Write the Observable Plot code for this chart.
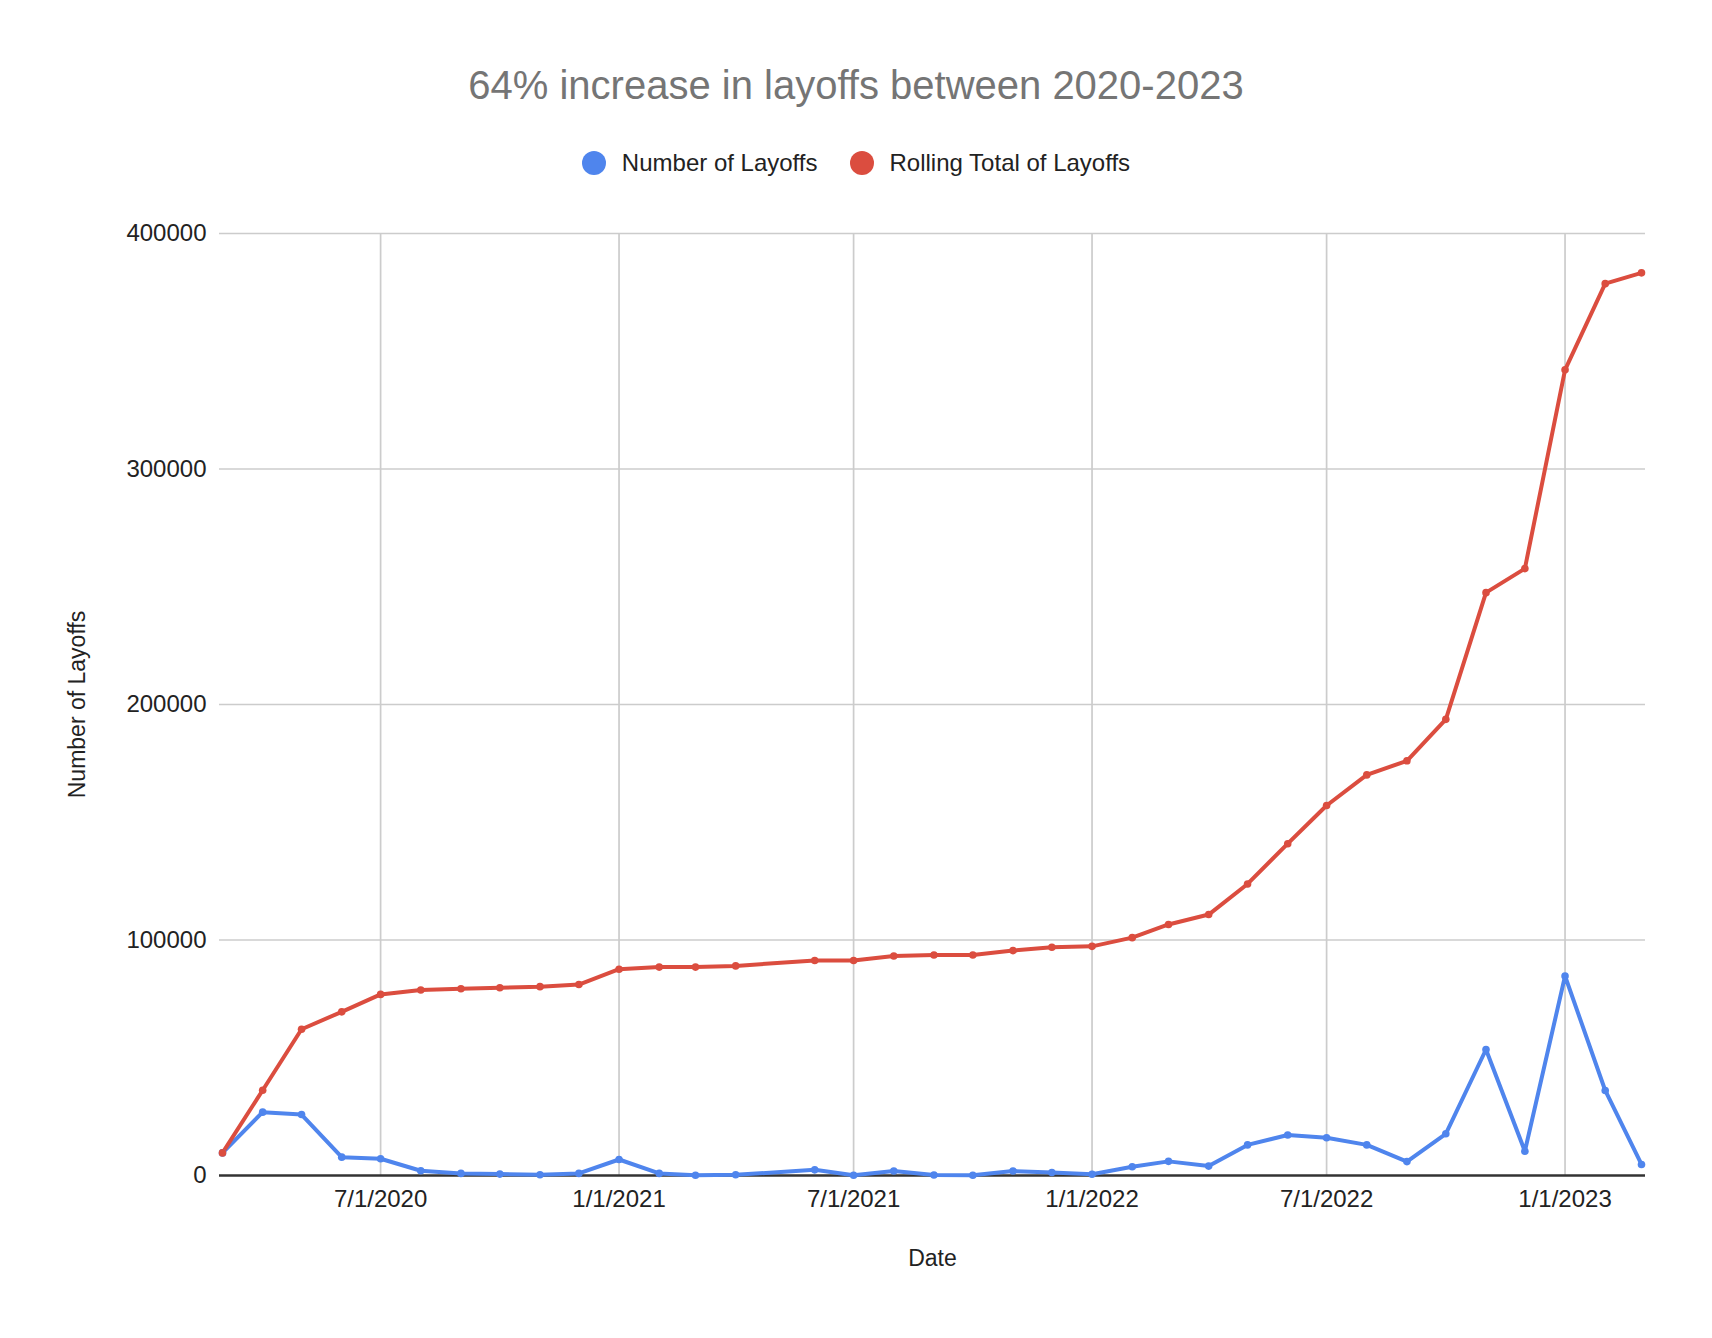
<!DOCTYPE html>
<html>
<head>
<meta charset="utf-8">
<script src="https://cdn.jsdelivr.net/npm/d3@7"></script>
<script src="https://cdn.jsdelivr.net/npm/@observablehq/plot@0.6"></script>
<style>
  body { margin: 0; background: #fff; font-family: "Liberation Sans", Arial, sans-serif; }
  #wrap { position: relative; width: 1712px; height: 1338px; background: #fff; }
  #title { position: absolute; top: 63px; left: 0; width: 1712px; text-align: center; font-size: 40px; line-height: 44px; color: #757575; }
  #legend { position: absolute; top: 149px; left: 0; width: 1712px; display: flex; justify-content: center; align-items: center; font-size: 24px; line-height: 28px; color: #222; }
  .item { display: flex; align-items: center; margin: 0 16px; }
  .sw { width: 24px; height: 24px; border-radius: 50%; display: inline-block; margin-right: 16px; }
  #chart { position: absolute; top: 200px; left: 0; }
</style>
</head>
<body>
<div id="wrap">
  <div id="title">64% increase in layoffs between 2020-2023</div>
  <div id="legend"></div>
  <div id="chart"></div>
</div>
<script>
const months = [
  "2020-03-01","2020-04-01","2020-05-01","2020-06-01","2020-07-01","2020-08-01","2020-09-01","2020-10-01","2020-11-01","2020-12-01",
  "2021-01-01","2021-02-01","2021-03-01","2021-04-01","2021-06-01","2021-07-01","2021-08-01","2021-09-01","2021-10-01","2021-11-01","2021-12-01",
  "2022-01-01","2022-02-01","2022-03-01","2022-04-01","2022-05-01","2022-06-01","2022-07-01","2022-08-01","2022-09-01","2022-10-01","2022-11-01","2022-12-01",
  "2023-01-01","2023-02-01","2023-03-01"
];
const layoffs = [
  9600, 26900, 25900, 7800, 7100, 2000, 900, 600, 300, 900,
  6800, 900, 100, 300, 2400, 100, 1900, 200, 100, 1900, 1300,
  500, 3700, 6000, 4000, 13000, 17200, 16000, 13000, 5900, 17700, 53500, 10300,
  84700, 36100, 4700
];
const rolling = [
  9600, 36200, 62100, 69500, 76900, 78800, 79300, 79700, 80200, 81100,
  87600, 88500, 88500, 89000, 91300, 91300, 93200, 93600, 93600, 95500, 96900,
  97300, 101000, 106600, 110800, 123800, 140900, 157100, 170100, 176100, 193700, 247500, 257700,
  342100, 378700, 383300
];
const xTicks = ["2020-07-01","2021-01-01","2021-07-01","2022-01-01","2022-07-01","2023-01-01"];
const yTicks = [0, 100000, 200000, 300000, 400000];
const seriesNames = ["Number of Layoffs", "Rolling Total of Layoffs"];
const seriesColors = ["#4f85ed", "#db4d3f"];

const data = [];
seriesNames.forEach((s, k) => {
  const vals = k === 0 ? layoffs : rolling;
  months.forEach((m, i) => data.push({date: new Date(m), value: vals[i], series: s}));
});

// legend
const legend = document.getElementById("legend");
seriesNames.forEach((s, k) => {
  const it = document.createElement("div");
  it.className = "item";
  const sw = document.createElement("span");
  sw.className = "sw";
  sw.style.background = seriesColors[k];
  it.appendChild(sw);
  it.appendChild(document.createTextNode(s));
  legend.appendChild(it);
});

const fmt = d3.utcFormat("%-m/%-d/%Y");
const chart = Plot.plot({
  width: 1712,
  height: 1138,
  marginTop: 33,
  marginBottom: 163,
  marginLeft: 219,
  marginRight: 67,
  style: {fontFamily: '"Liberation Sans", Arial, sans-serif', fontSize: "24px", color: "#222", background: "#fff"},
  x: {type: "utc", domain: [new Date(months[0]), new Date(months[months.length - 1])], insetLeft: 3, insetRight: 4},
  y: {domain: [0, 400000]},
  color: {domain: seriesNames, range: seriesColors},
  marks: [
    Plot.ruleY(yTicks.slice(1), {stroke: "#cccccc", strokeWidth: 1.7}),
    Plot.ruleX(xTicks.map(d => new Date(d)), {stroke: "#cccccc", strokeWidth: 1.7}),
    Plot.axisY({ticks: yTicks, tickSize: 0, tickPadding: 13, tickFormat: d => String(d), label: null, fontSize: 24}),
    Plot.axisX({ticks: xTicks.map(d => new Date(d)), tickSize: 0, tickPadding: 14, tickFormat: fmt, label: null, fontSize: 24}),
    Plot.ruleY([0], {stroke: "#333333", strokeWidth: 2.5}),
    Plot.line(data, {x: "date", y: "value", z: "series", stroke: "series", strokeWidth: 4, strokeLinejoin: "round"}),
    Plot.dot(data, {x: "date", y: "value", fill: "series", r: 3.8}),
    Plot.text(["Number of Layoffs"], {text: d => d, frameAnchor: "left", textAnchor: "middle", lineAnchor: "middle", rotate: -90, dx: -142, fontSize: 23, fill: "#222"}),
    Plot.text(["Date"], {text: d => d, frameAnchor: "bottom", textAnchor: "middle", lineAnchor: "middle", dy: 83, fontSize: 23, fill: "#222"})
  ]
});
document.getElementById("chart").appendChild(chart);
</script>
</body>
</html>
